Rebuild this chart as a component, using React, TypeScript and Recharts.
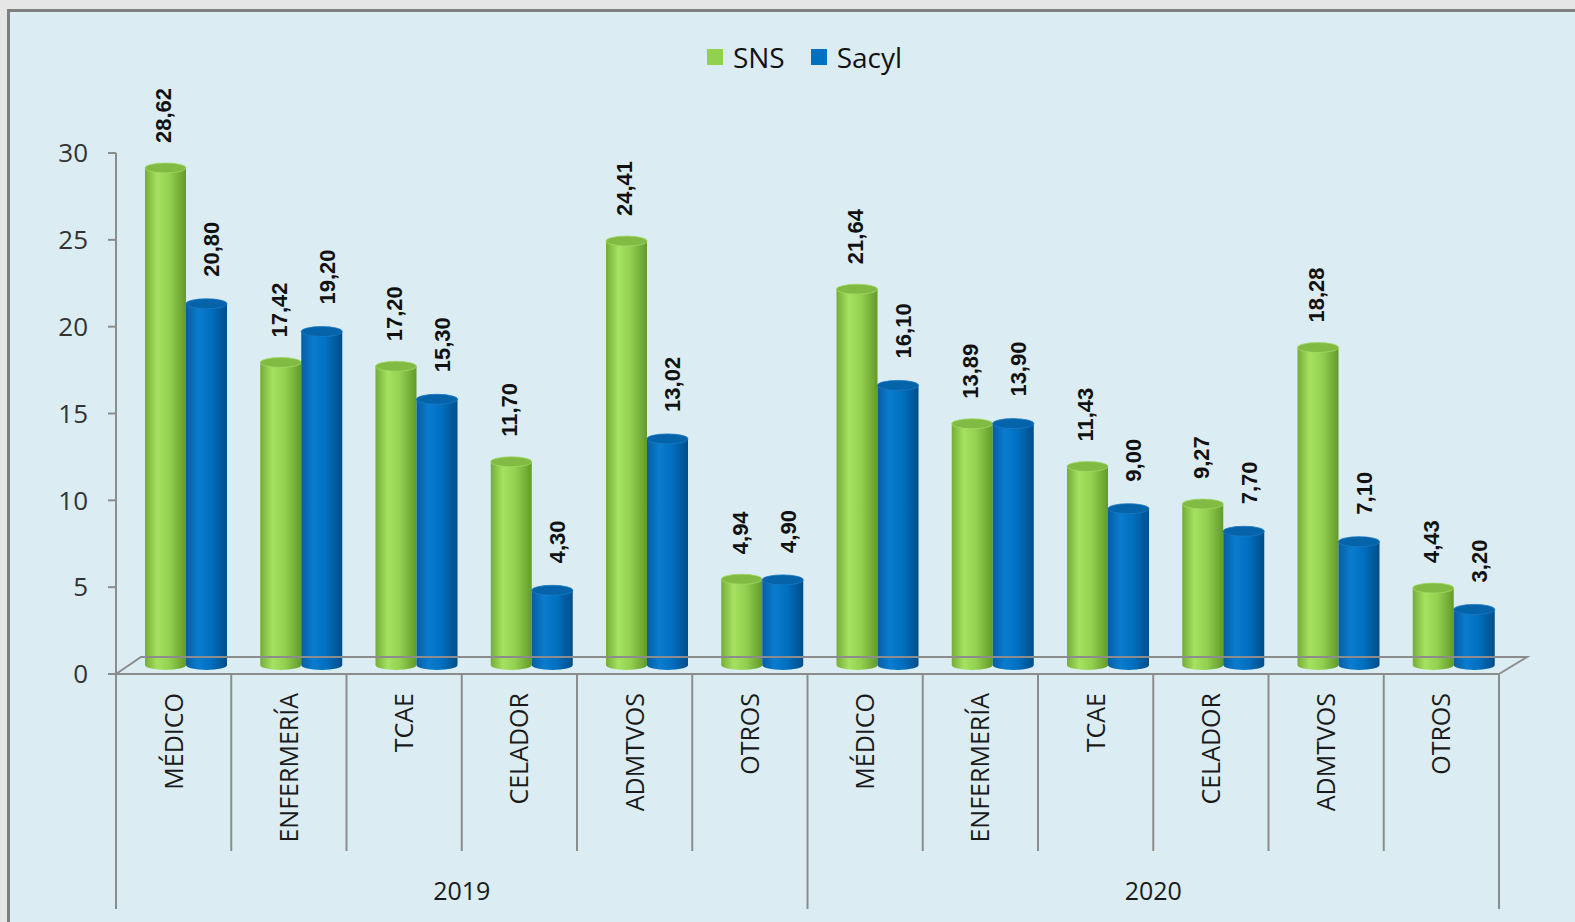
import { BarChart, Bar, XAxis, YAxis, LabelList } from "recharts";

const categories = ["MÉDICO", "ENFERMERÍA", "TCAE", "CELADOR", "ADMTVOS", "OTROS"];
const years = ["2019", "2020"];
const sns2019 = [28.62, 17.42, 17.2, 11.7, 24.41, 4.94];
const sacyl2019 = [20.8, 19.2, 15.3, 4.3, 13.02, 4.9];
const sns2020 = [21.64, 13.89, 11.43, 9.27, 18.28, 4.43];
const sacyl2020 = [16.1, 13.9, 9.0, 7.7, 7.1, 3.2];
const yTicks = [0, 5, 10, 15, 20, 25, 30];

const series = [
  { key: "sns", name: "SNS", color: "#92d050" },
  { key: "sacyl", name: "Sacyl", color: "#0070c0" },
];

const data = years.flatMap((year, yi) =>
  categories.map((cat, ci) => ({
    cat,
    year,
    sns: yi === 0 ? sns2019[ci] : sns2020[ci],
    sacyl: yi === 0 ? sacyl2019[ci] : sacyl2020[ci],
  }))
);

// layout
const W = 1575;
const H = 922;
const PLOT_L = 116;
const PLOT_R = 1499;
const PLOT_T = 153;
const PLOT_B = 674;
const BW = (PLOT_R - PLOT_L) / data.length;
const CAT_AXIS_H = 177;
const YEAR_AXIS_H = H - PLOT_B - CAT_AXIS_H;

// fake 3d: bars sit halfway into the floor
const DX = 12;
const DY = -9;
const FLOOR_DX = 25;
const FLOOR_DY = 17;
const RY = 5;

const AXIS = "#8c8c8c";
const FONT = "'Open Sans', sans-serif";

const fmt = (v: number) => v.toFixed(2).replace(".", ",");

const Cylinder = (props: any) => {
  const { x, y, width, height, tone } = props;
  if (height == null || width == null) return null;
  const left = x + DX;
  const top = y + DY;
  const bottom = y + height + DY;
  const body = `M${left},${top} L${left},${bottom} A${width / 2},${RY} 0 0 0 ${left + width},${bottom} L${left + width},${top} Z`;
  return (
    <g>
      <path d={body} fill={`url(#grad-${tone})`} />
      <ellipse
        cx={left + width / 2}
        cy={top}
        rx={width / 2}
        ry={RY}
        fill={tone === "sns" ? "#82bb44" : "#0563a9"}
        stroke={tone === "sns" ? "#9fd964" : "#1a78c4"}
        strokeWidth={0.8}
      />
    </g>
  );
};

const makeLabel = (dx: number, gap: number) => (p: any) => {
  const { x, y, width, value } = p;
  const lx = x + width / 2 + DX + dx;
  const ly = y + DY - gap;
  return (
    <text
      x={lx}
      y={ly}
      transform={`rotate(-90 ${lx} ${ly})`}
      textAnchor="start"
      dy="0.36em"
      fontFamily="'Liberation Sans', Arial, sans-serif"
      fontWeight="bold"
      fontSize={22}
      fill="#111"
    >
      {fmt(value)}
    </text>
  );
};

const CatTick = (props: any) => {
  const { x, y, payload, index } = props;
  const right = x + BW / 2;
  const left = x - BW / 2;
  const groupEnd = (index + 1) % categories.length === 0;
  return (
    <g>
      {index === 0 && (
        <>
          <line x1={left} y1={y} x2={left} y2={y + CAT_AXIS_H + 58} stroke={AXIS} strokeWidth={2} />
          <polyline
            points={`${left},${y} ${left + FLOOR_DX},${y - FLOOR_DY} ${left + BW * data.length + FLOOR_DX + 3},${y - FLOOR_DY} ${left + BW * data.length},${y}`}
            fill="none"
            stroke={AXIS}
            strokeWidth={2}
          />
        </>
      )}
      <line
        x1={right}
        y1={y}
        x2={right}
        y2={y + (groupEnd ? CAT_AXIS_H + 58 : CAT_AXIS_H)}
        stroke={AXIS}
        strokeWidth={2}
      />
      <text
        x={x}
        y={y + 19}
        transform={`rotate(-90 ${x} ${y + 19})`}
        textAnchor="end"
        dy="0.36em"
        fontFamily={FONT}
        fontSize={25}
        fill="#1a1a1a"
      >
        {payload.value}
      </text>
    </g>
  );
};

const YearTick = (props: any) => {
  const { x, y, payload } = props;
  return (
    <text x={x} y={y + 40} dy="0.36em" textAnchor="middle" fontFamily={FONT} fontSize={25} fill="#1a1a1a">
      {payload.value}
    </text>
  );
};

export default function App() {
  return (
    <div style={{ position: "absolute", left: 0, top: 0, width: W, height: H, background: "#e6e6e6", overflow: "hidden" }}>
      <div
        style={{
          position: "absolute",
          left: 7,
          top: 9,
          width: W,
          height: H,
          background: "#dbedf3",
          borderLeft: "3px solid #7f7f7f",
          borderTop: "3px solid #7f7f7f",
        }}
      />
      <div
        style={{
          position: "absolute",
          left: PLOT_L,
          width: PLOT_R - PLOT_L - 6,
          top: 38,
          display: "flex",
          justifyContent: "center",
          gap: 26,
          fontFamily: FONT,
          fontSize: 28,
          color: "#111",
        }}
      >
        {series.map((s) => (
          <div key={s.key} style={{ display: "flex", alignItems: "center", gap: 10 }}>
            <span style={{ width: 16, height: 16, background: s.color, display: "inline-block" }} />
            <span>{s.name}</span>
          </div>
        ))}
      </div>
      <div style={{ position: "absolute", left: 0, top: 0 }}>
        <BarChart
          width={W}
          height={H}
          data={data}
          margin={{ top: PLOT_T, right: W - PLOT_R, left: 0, bottom: 0 }}
          barGap={0}
          barSize={41}
        >
          <defs>
            <linearGradient id="grad-sns" x1="0" y1="0" x2="1" y2="0">
              <stop offset="0" stopColor="#74ad36" />
              <stop offset="0.3" stopColor="#a6e262" />
              <stop offset="0.6" stopColor="#92d050" />
              <stop offset="1" stopColor="#639a2a" />
            </linearGradient>
            <linearGradient id="grad-sacyl" x1="0" y1="0" x2="1" y2="0">
              <stop offset="0" stopColor="#075ea3" />
              <stop offset="0.3" stopColor="#0a7ccf" />
              <stop offset="0.6" stopColor="#0070c0" />
              <stop offset="1" stopColor="#004d88" />
            </linearGradient>
          </defs>
          <XAxis
            dataKey="cat"
            interval={0}
            height={CAT_AXIS_H}
            tickSize={0}
            tickMargin={0}
            tickLine={false}
            axisLine={{ stroke: AXIS, strokeWidth: 2 }}
            tick={<CatTick />}
          />
          <XAxis
            xAxisId="year"
            dataKey="year"
            allowDuplicatedCategory={false}
            height={YEAR_AXIS_H}
            tickSize={0}
            tickMargin={0}
            tickLine={false}
            axisLine={false}
            tick={<YearTick />}
          />
          <YAxis
            width={PLOT_L}
            domain={[0, 30]}
            ticks={yTicks}
            tickSize={8}
            tickMargin={20}
            axisLine={{ stroke: AXIS, strokeWidth: 2 }}
            tickLine={{ stroke: AXIS, strokeWidth: 2 }}
            tick={{ fontFamily: FONT, fontSize: 26, fill: "#333" }}
          />
          <Bar dataKey="sns" name="SNS" fill="#92d050" isAnimationActive={false} shape={(p: any) => <Cylinder {...p} tone="sns" />}>
            <LabelList dataKey="sns" content={makeLabel(-2, 25)} />
          </Bar>
          <Bar dataKey="sacyl" name="Sacyl" fill="#0070c0" isAnimationActive={false} shape={(p: any) => <Cylinder {...p} tone="sacyl" />}>
            <LabelList dataKey="sacyl" content={makeLabel(5, 27)} />
          </Bar>
        </BarChart>
      </div>
    </div>
  );
}
